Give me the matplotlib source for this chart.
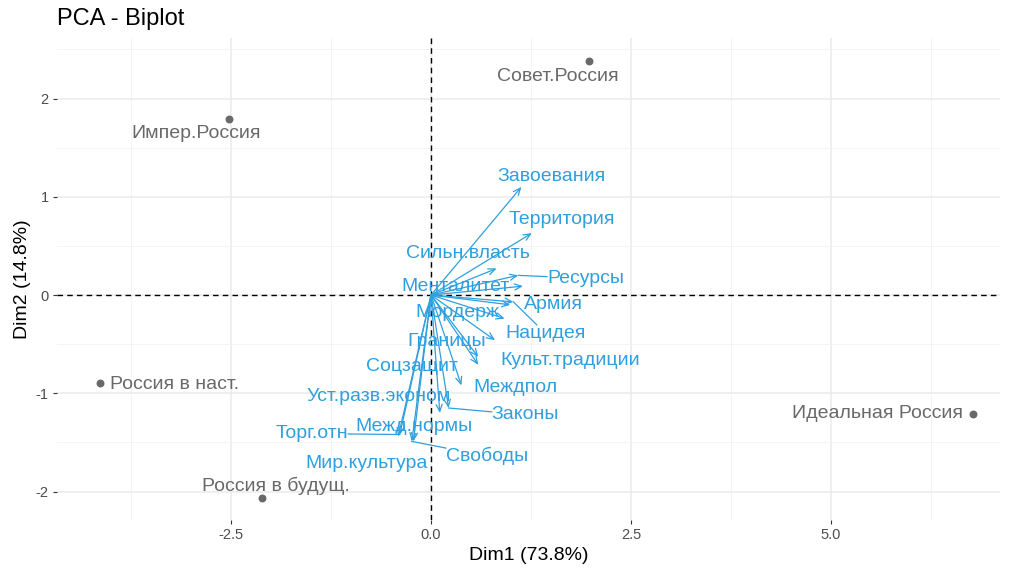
import matplotlib
matplotlib.use("Agg")
import matplotlib.pyplot as plt
import numpy as np

plt.rcParams["font.family"] = ["Liberation Sans", "DejaVu Sans"]
plt.rcParams["axes.unicode_minus"] = False

# --- DATA ---
ind_names = ["Совет.Россия", "Импер.Россия", "Россия в наст.", "Россия в будущ.", "Идеальная Россия"]
ind_x = [1.97, -2.52, -4.14, -2.11, 6.77]
ind_y = [2.38, 1.79, -0.90, -2.07, -1.21]
# label positions (repelled)
ind_lx = [1.59, -2.93, -3.20, -1.94, 5.58]
ind_ly = [2.22, 1.64, -0.91, -1.94, -1.21]

var_names = ["Завоевания", "Территория", "Сильн.власть", "Ресурсы", "Менталитет",
             "Армия", "Нацидея", "Мордерж", "Границы", "Культ.традиции", "Соцзащит",
             "Уст.разв.эконом", "Междпол", "Законы", "Межд.нормы", "Торг.отн",
             "Мир.культура", "Свободы"]
var_x = [1.13, 1.26, 0.82, 1.09, 1.15, 0.99, 1.03, 0.92, 0.80, 0.59, 0.59,
         0.11, 0.38, 0.22, -0.22, -0.39, -0.41, -0.24]
var_y = [1.10, 0.63, 0.27, 0.20, 0.09, -0.10, -0.07, -0.24, -0.46, -0.71, -0.63,
         -1.20, -0.92, -1.15, -1.49, -1.42, -1.44, -1.49]
var_lx = [1.50, 1.63, 0.46, 1.93, 0.31, 1.53, 1.43, 0.33, 0.19, 1.74, -0.24,
          -0.65, 1.05, 1.18, -0.21, -1.49, -0.80, 0.70]
var_ly = [1.21, 0.77, 0.42, 0.17, 0.09, -0.10, -0.39, -0.18, -0.47, -0.67, -0.73,
          -1.03, -0.94, -1.22, -1.34, -1.41, -1.71, -1.64]
with_segment = ["Ресурсы", "Нацидея", "Законы", "Свободы", "Торг.отн"]

col_var = "#2E9FDF"
col_ind = "#696969"
lab_size = 14

fig = plt.figure(figsize=(10.12, 5.72), dpi=100)
ax = fig.add_axes([0.0563, 0.0909, 0.9317, 0.8427])
ax.set_xlim(-4.675, 7.11)
ax.set_ylim(-2.29, 2.616)

# grid
ax.set_xticks([-2.5, 0, 2.5, 5.0])
ax.set_xticklabels(["-2.5", "0.0", "2.5", "5.0"])
ax.set_yticks([-2, -1, 0, 1, 2])
ax.set_xticks([-3.75, -1.25, 1.25, 3.75, 6.25], minor=True)
ax.set_yticks([-1.5, -0.5, 0.5, 1.5, 2.5], minor=True)
ax.grid(True, which="major", color="#EBEBEB", linewidth=1.1)
ax.grid(True, which="minor", color="#F2F2F2", linewidth=0.6)
ax.set_axisbelow(True)
for s in ax.spines.values():
    s.set_visible(False)
ax.tick_params(which="major", length=3, width=0.8, color="#333333",
               labelcolor="#4D4D4D", labelsize=10.5, pad=3)
ax.tick_params(which="minor", length=0)

ax.axhline(0, color="black", linestyle=(0, (4, 3)), linewidth=1.0)
ax.axvline(0, color="black", linestyle=(0, (4, 3)), linewidth=1.0)

# individuals
ax.scatter(ind_x, ind_y, s=22, color=col_ind, zorder=3)
for n, lx, ly in zip(ind_names, ind_lx, ind_ly):
    ax.text(lx, ly, n, color=col_ind, fontsize=lab_size, ha="center", va="center", zorder=4)

# variables
for vx, vy in zip(var_x, var_y):
    ax.annotate("", xy=(vx, vy), xytext=(0, 0),
                arrowprops=dict(arrowstyle="->,head_length=0.5,head_width=0.22",
                                color=col_var, lw=0.9, shrinkA=0, shrinkB=0),
                zorder=3)

texts = []
for n, lx, ly in zip(var_names, var_lx, var_ly):
    t = ax.text(lx, ly, n, color=col_var, fontsize=lab_size, ha="center", va="center", zorder=4)
    texts.append(t)

# repel segments: from arrow tip towards label centre, stopped at the label box
fig.canvas.draw()
inv = ax.transData.inverted()
for t, n, vx, vy, lx, ly in zip(texts, var_names, var_x, var_y, var_lx, var_ly):
    if n not in with_segment:
        continue
    bb = t.get_window_extent().transformed(inv)
    hw, hh = (bb.x1 - bb.x0) / 2, (bb.y1 - bb.y0) / 2
    dx, dy = vx - lx, vy - ly
    s = min(hw / abs(dx) if dx else np.inf, hh / abs(dy) if dy else np.inf)
    ax.plot([vx, lx + dx * s], [vy, ly + dy * s], color=col_var, lw=0.9, zorder=3)

ax.set_xlabel("Dim1 (73.8%)", fontsize=14, color="black", labelpad=3)
ax.set_ylabel("Dim2 (14.8%)", fontsize=14, color="black", labelpad=3)
fig.text(0.0563, 0.966, "PCA - Biplot", fontsize=17, ha="left", va="center")

fig.savefig("out.png", dpi=100)
